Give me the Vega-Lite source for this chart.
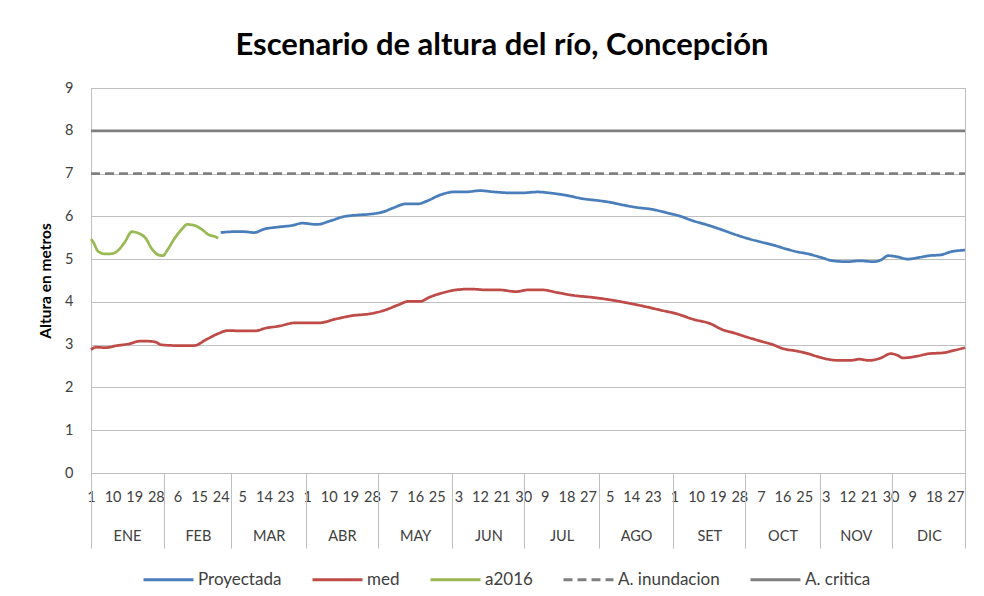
{
  "$schema": "https://vega.github.io/schema/vega-lite/v6.json",
  "width": 874,
  "height": 385,
  "autosize": {"type": "none"},
  "padding": {"left": 91, "top": 88, "right": 19, "bottom": 123},
  "background": "white",
  "title": {
    "text": "Escenario de altura del río, Concepción",
    "font": "Lato",
    "fontSize": 31,
    "fontWeight": "bold",
    "color": "#000000",
    "anchor": "middle",
    "dx": -26,
    "offset": 18
  },
  "config": {
    "view": {"stroke": "#BFBFBF", "strokeWidth": 1},
    "axis": {"labelFont": "Lato", "titleFont": "Lato", "labelColor": "#404040", "titleColor": "#000000"},
    "legend": {"labelFont": "Lato"}
  },
  "data": {
    "values": [
      {"d": 1, "s": "A. inundacion", "v": 7},
      {"d": 365, "s": "A. inundacion", "v": 7},
      {"d": 1, "s": "A. critica", "v": 8},
      {"d": 365, "s": "A. critica", "v": 8},
      {"d": 1, "s": "a2016", "v": 5.47},
      {"d": 2, "s": "a2016", "v": 5.39},
      {"d": 4, "s": "a2016", "v": 5.18},
      {"d": 7, "s": "a2016", "v": 5.12},
      {"d": 10, "s": "a2016", "v": 5.13},
      {"d": 12, "s": "a2016", "v": 5.19},
      {"d": 15, "s": "a2016", "v": 5.39},
      {"d": 18, "s": "a2016", "v": 5.64},
      {"d": 21, "s": "a2016", "v": 5.6},
      {"d": 24, "s": "a2016", "v": 5.47},
      {"d": 26, "s": "a2016", "v": 5.27},
      {"d": 29, "s": "a2016", "v": 5.1},
      {"d": 31, "s": "a2016", "v": 5.08},
      {"d": 33, "s": "a2016", "v": 5.23},
      {"d": 36, "s": "a2016", "v": 5.5},
      {"d": 39, "s": "a2016", "v": 5.71},
      {"d": 41, "s": "a2016", "v": 5.81},
      {"d": 44, "s": "a2016", "v": 5.79},
      {"d": 47, "s": "a2016", "v": 5.7},
      {"d": 50, "s": "a2016", "v": 5.57},
      {"d": 53, "s": "a2016", "v": 5.52},
      {"d": 54, "s": "a2016", "v": 5.49},
      {"d": 55, "s": "Proyectada", "v": 5.62},
      {"d": 60, "s": "Proyectada", "v": 5.64},
      {"d": 65, "s": "Proyectada", "v": 5.64},
      {"d": 69, "s": "Proyectada", "v": 5.62},
      {"d": 73, "s": "Proyectada", "v": 5.7},
      {"d": 79, "s": "Proyectada", "v": 5.75},
      {"d": 85, "s": "Proyectada", "v": 5.79},
      {"d": 89, "s": "Proyectada", "v": 5.84},
      {"d": 95, "s": "Proyectada", "v": 5.81},
      {"d": 101, "s": "Proyectada", "v": 5.9},
      {"d": 106, "s": "Proyectada", "v": 5.99},
      {"d": 112, "s": "Proyectada", "v": 6.03},
      {"d": 117, "s": "Proyectada", "v": 6.05},
      {"d": 123, "s": "Proyectada", "v": 6.11},
      {"d": 127, "s": "Proyectada", "v": 6.2},
      {"d": 132, "s": "Proyectada", "v": 6.29},
      {"d": 137, "s": "Proyectada", "v": 6.29},
      {"d": 141, "s": "Proyectada", "v": 6.36},
      {"d": 146, "s": "Proyectada", "v": 6.49},
      {"d": 152, "s": "Proyectada", "v": 6.57},
      {"d": 157, "s": "Proyectada", "v": 6.57},
      {"d": 163, "s": "Proyectada", "v": 6.6},
      {"d": 169, "s": "Proyectada", "v": 6.57},
      {"d": 175, "s": "Proyectada", "v": 6.55},
      {"d": 181, "s": "Proyectada", "v": 6.55},
      {"d": 187, "s": "Proyectada", "v": 6.57},
      {"d": 193, "s": "Proyectada", "v": 6.54},
      {"d": 199, "s": "Proyectada", "v": 6.49},
      {"d": 206, "s": "Proyectada", "v": 6.41},
      {"d": 212, "s": "Proyectada", "v": 6.37},
      {"d": 217, "s": "Proyectada", "v": 6.33},
      {"d": 223, "s": "Proyectada", "v": 6.26},
      {"d": 228, "s": "Proyectada", "v": 6.21},
      {"d": 235, "s": "Proyectada", "v": 6.16},
      {"d": 241, "s": "Proyectada", "v": 6.08},
      {"d": 246, "s": "Proyectada", "v": 6.01},
      {"d": 252, "s": "Proyectada", "v": 5.89},
      {"d": 257, "s": "Proyectada", "v": 5.81},
      {"d": 263, "s": "Proyectada", "v": 5.7},
      {"d": 268, "s": "Proyectada", "v": 5.6},
      {"d": 274, "s": "Proyectada", "v": 5.49},
      {"d": 280, "s": "Proyectada", "v": 5.4},
      {"d": 285, "s": "Proyectada", "v": 5.33},
      {"d": 291, "s": "Proyectada", "v": 5.23},
      {"d": 295, "s": "Proyectada", "v": 5.17},
      {"d": 299, "s": "Proyectada", "v": 5.13},
      {"d": 305, "s": "Proyectada", "v": 5.04},
      {"d": 310, "s": "Proyectada", "v": 4.96},
      {"d": 316, "s": "Proyectada", "v": 4.94},
      {"d": 321, "s": "Proyectada", "v": 4.96},
      {"d": 327, "s": "Proyectada", "v": 4.94},
      {"d": 330, "s": "Proyectada", "v": 4.98},
      {"d": 333, "s": "Proyectada", "v": 5.08},
      {"d": 337, "s": "Proyectada", "v": 5.05},
      {"d": 341, "s": "Proyectada", "v": 5.0},
      {"d": 346, "s": "Proyectada", "v": 5.04},
      {"d": 350, "s": "Proyectada", "v": 5.08},
      {"d": 355, "s": "Proyectada", "v": 5.1},
      {"d": 359, "s": "Proyectada", "v": 5.17},
      {"d": 365, "s": "Proyectada", "v": 5.21},
      {"d": 1, "s": "med", "v": 2.88},
      {"d": 3, "s": "med", "v": 2.94},
      {"d": 7, "s": "med", "v": 2.93},
      {"d": 12, "s": "med", "v": 2.98},
      {"d": 17, "s": "med", "v": 3.02},
      {"d": 21, "s": "med", "v": 3.08},
      {"d": 25, "s": "med", "v": 3.08},
      {"d": 28, "s": "med", "v": 3.06},
      {"d": 30, "s": "med", "v": 3.0},
      {"d": 36, "s": "med", "v": 2.98},
      {"d": 44, "s": "med", "v": 2.98},
      {"d": 49, "s": "med", "v": 3.12},
      {"d": 54, "s": "med", "v": 3.26},
      {"d": 58, "s": "med", "v": 3.33},
      {"d": 64, "s": "med", "v": 3.32},
      {"d": 69, "s": "med", "v": 3.32},
      {"d": 74, "s": "med", "v": 3.39},
      {"d": 79, "s": "med", "v": 3.43},
      {"d": 86, "s": "med", "v": 3.51},
      {"d": 96, "s": "med", "v": 3.51},
      {"d": 103, "s": "med", "v": 3.6},
      {"d": 110, "s": "med", "v": 3.68},
      {"d": 117, "s": "med", "v": 3.72},
      {"d": 123, "s": "med", "v": 3.8},
      {"d": 129, "s": "med", "v": 3.93},
      {"d": 133, "s": "med", "v": 4.01},
      {"d": 138, "s": "med", "v": 4.01},
      {"d": 142, "s": "med", "v": 4.11},
      {"d": 148, "s": "med", "v": 4.22},
      {"d": 153, "s": "med", "v": 4.28},
      {"d": 159, "s": "med", "v": 4.3},
      {"d": 166, "s": "med", "v": 4.28},
      {"d": 171, "s": "med", "v": 4.28},
      {"d": 178, "s": "med", "v": 4.24},
      {"d": 183, "s": "med", "v": 4.28},
      {"d": 189, "s": "med", "v": 4.28},
      {"d": 195, "s": "med", "v": 4.22},
      {"d": 202, "s": "med", "v": 4.15},
      {"d": 209, "s": "med", "v": 4.11},
      {"d": 217, "s": "med", "v": 4.05},
      {"d": 224, "s": "med", "v": 3.98},
      {"d": 231, "s": "med", "v": 3.9},
      {"d": 238, "s": "med", "v": 3.81},
      {"d": 245, "s": "med", "v": 3.72},
      {"d": 252, "s": "med", "v": 3.59},
      {"d": 259, "s": "med", "v": 3.49},
      {"d": 264, "s": "med", "v": 3.35},
      {"d": 269, "s": "med", "v": 3.27},
      {"d": 274, "s": "med", "v": 3.18},
      {"d": 280, "s": "med", "v": 3.08},
      {"d": 285, "s": "med", "v": 3.0},
      {"d": 289, "s": "med", "v": 2.91},
      {"d": 295, "s": "med", "v": 2.85},
      {"d": 299, "s": "med", "v": 2.8},
      {"d": 303, "s": "med", "v": 2.73},
      {"d": 307, "s": "med", "v": 2.67},
      {"d": 313, "s": "med", "v": 2.63},
      {"d": 317, "s": "med", "v": 2.63},
      {"d": 321, "s": "med", "v": 2.66},
      {"d": 325, "s": "med", "v": 2.63},
      {"d": 330, "s": "med", "v": 2.69},
      {"d": 334, "s": "med", "v": 2.79},
      {"d": 337, "s": "med", "v": 2.75},
      {"d": 339, "s": "med", "v": 2.69},
      {"d": 345, "s": "med", "v": 2.73},
      {"d": 350, "s": "med", "v": 2.79},
      {"d": 356, "s": "med", "v": 2.81},
      {"d": 360, "s": "med", "v": 2.86},
      {"d": 365, "s": "med", "v": 2.93}
    ]
  },
  "layer": [
    {
      "mark": {"type": "line", "strokeWidth": 2.75, "interpolate": "monotone"},
      "encoding": {
        "x": {
          "field": "d",
          "type": "quantitative",
          "scale": {"domain": [1, 365], "nice": false, "zero": false},
          "axis": {
            "orient": "bottom",
            "title": null,
            "values": [1, 10, 19, 28, 37, 46, 55, 64, 73, 82, 91, 100, 109, 118, 127, 136, 145, 154, 163, 172, 181, 190, 199, 208, 217, 226, 235, 244, 253, 262, 271, 280, 289, 298, 307, 316, 325, 334, 343, 352, 361],
            "labelExpr": "date(datetime(2015, 0, datum.value))",
            "labelOverlap": false,
            "labelFlush": false,
            "labelBound": false,
            "labelFontSize": 14.5,
            "labelPadding": 17,
            "ticks": false,
            "tickSize": 0,
            "grid": false,
            "domain": true,
            "domainColor": "#BFBFBF"
          }
        },
        "y": {
          "field": "v",
          "type": "quantitative",
          "scale": {"domain": [0, 9], "nice": false, "zero": true},
          "axis": {
            "title": "Altura en metros",
            "titleFontSize": 15.5,
            "titleFontWeight": "bold",
            "titlePadding": 11,
            "values": [0, 1, 2, 3, 4, 5, 6, 7, 8, 9],
            "labelFontSize": 14.5,
            "labelPadding": 18,
            "ticks": false,
            "tickSize": 0,
            "grid": true,
            "gridColor": "#BFBFBF",
            "gridWidth": 1,
            "domain": true,
            "domainColor": "#BFBFBF"
          }
        },
        "color": {
          "field": "s",
          "type": "nominal",
          "sort": ["Proyectada", "med", "a2016", "A. inundacion", "A. critica"],
          "scale": {
            "domain": ["Proyectada", "med", "a2016", "A. inundacion", "A. critica"],
            "range": ["#4A7EBB", "#BE4B48", "#98B954", "#808080", "#7F7F7F"]
          },
          "legend": {
            "title": null,
            "orient": "none",
            "direction": "horizontal",
            "legendX": 51,
            "legendY": 465,
            "symbolType": "stroke",
            "symbolSize": 2500,
            "symbolStrokeWidth": 3,
            "labelFontSize": 17,
            "labelColor": "#404040",
            "labelOffset": 3,
            "columnPadding": 24
          }
        },
        "strokeDash": {
          "field": "s",
          "type": "nominal",
          "sort": ["Proyectada", "med", "a2016", "A. inundacion", "A. critica"],
          "scale": {
            "domain": ["Proyectada", "med", "a2016", "A. inundacion", "A. critica"],
            "range": [[1, 0], [1, 0], [1, 0], [9, 5], [1, 0]]
          },
          "legend": {
            "title": null,
            "orient": "none",
            "direction": "horizontal",
            "legendX": 51,
            "legendY": 465,
            "symbolType": "stroke",
            "symbolSize": 2500,
            "symbolStrokeWidth": 3,
            "labelFontSize": 17,
            "labelColor": "#404040",
            "labelOffset": 3,
            "columnPadding": 24
          }
        }
      }
    },
    {
      "mark": {"type": "point", "opacity": 0},
      "encoding": {
        "x": {
          "field": "d",
          "type": "quantitative",
          "axis": {
            "orient": "bottom",
            "title": null,
            "values": [1, 31.5, 59.5, 90.5, 120.5, 151.5, 181.5, 212.5, 243.5, 273.5, 304.5, 334.5, 365],
            "labels": false,
            "ticks": true,
            "tickSize": 75,
            "tickColor": "#BFBFBF",
            "tickWidth": 1,
            "grid": false,
            "domain": false
          }
        }
      }
    },
    {
      "mark": {"type": "point", "opacity": 0},
      "encoding": {
        "x": {
          "field": "d",
          "type": "quantitative",
          "axis": {
            "orient": "bottom",
            "title": null,
            "values": [16, 45.5, 75, 105.5, 136, 166.5, 197, 228, 258.5, 289, 319.5, 350],
            "labelExpr": "['ENE','FEB','MAR','ABR','MAY','JUN','JUL','AGO','SET','OCT','NOV','DIC'][month(datetime(2015, 0, datum.value))]",
            "labelOverlap": false,
            "labelFlush": false,
            "labelFontSize": 14.5,
            "labelPadding": 56,
            "ticks": false,
            "tickSize": 0,
            "grid": false,
            "domain": false
          }
        }
      }
    }
  ],
  "resolve": {"axis": {"x": "independent"}}
}
